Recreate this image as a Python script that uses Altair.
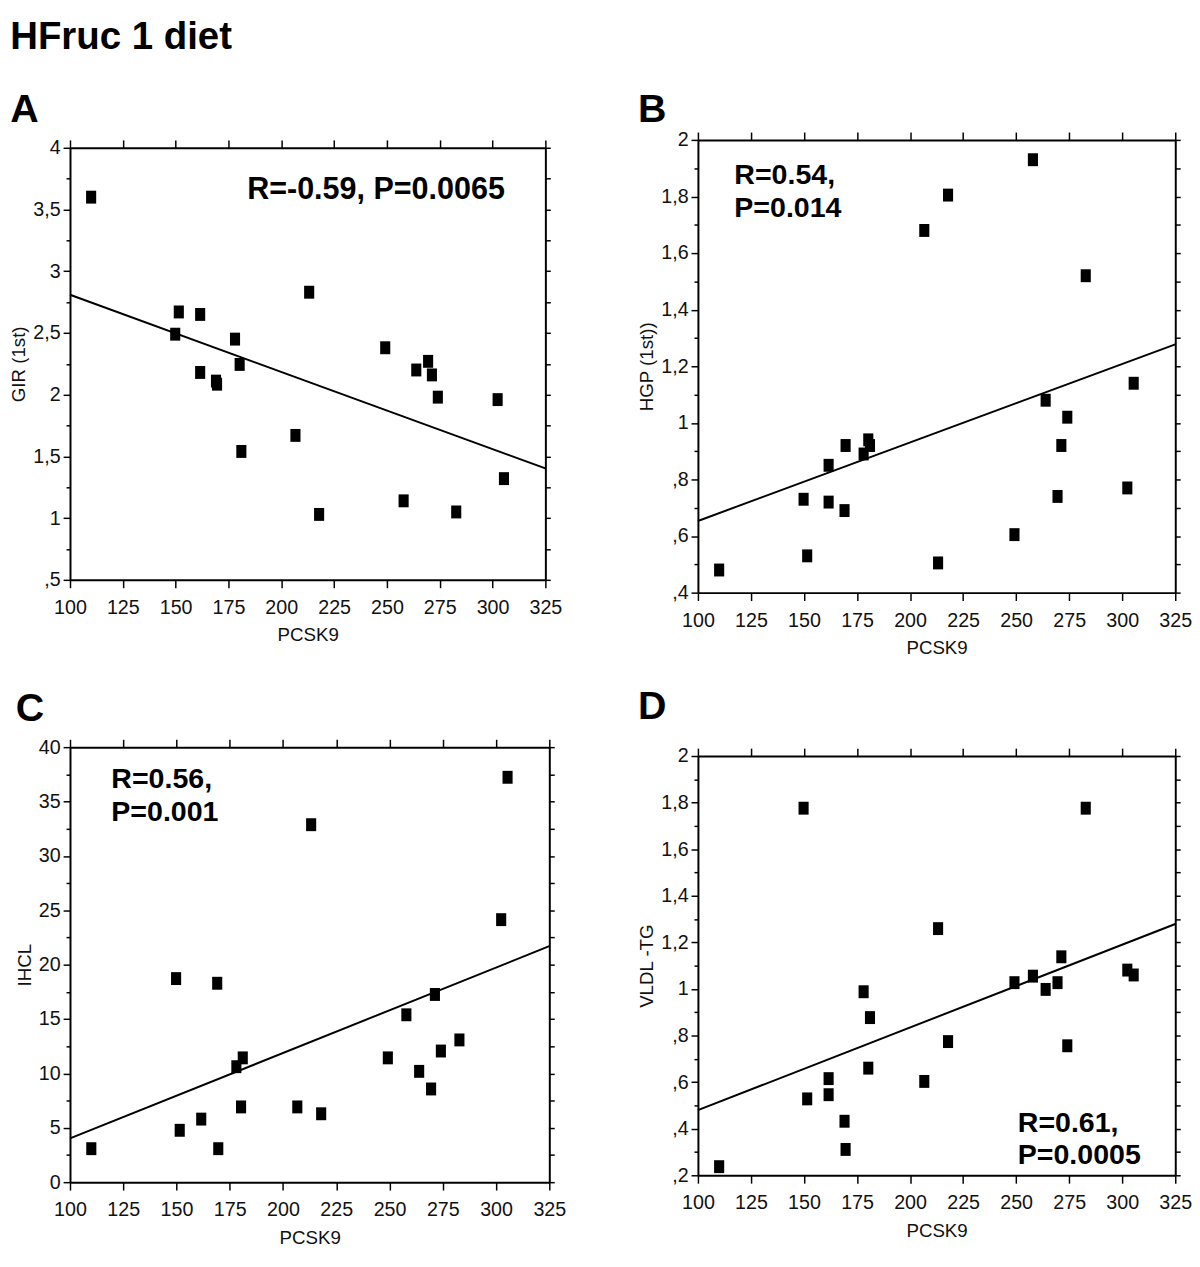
import json
import altair as alt
import pandas as pd

# ---- data ----
pcsk9 = [110.0, 149.8, 151.5, 161.6, 161.6, 169.1, 169.6, 178.1, 180.3, 181.1, 206.7,
         213.2, 217.9, 249.2, 257.9, 263.9, 269.5, 271.3, 274.1, 282.8, 302.4, 305.4]
gir_1st = [3.60, 2.49, 2.67, 2.65, 2.18, 2.11, 2.085, 2.45, 2.245, 1.54, 1.67,
           2.83, 1.03, 2.38, 1.14, 2.20, 2.27, 2.16, 1.98, 1.05, 1.96, 1.32]
hgp_1st = [0.48, 0.73, 0.53, 0.85, 0.72, 0.69, 0.92, 0.89, 0.94, 0.92, 1.68,
           0.505, 1.805, 0.605, 1.93, 1.08, 0.74, 0.92, 1.02, 1.52, 0.77, 1.14]
ihcl = [3.08, 18.72, 4.77, 5.8, None, 18.29, 3.08, 10.62, 6.92, 11.43, 6.92,
        32.87, 6.29, 11.43, 15.39, 10.19, 8.57, 17.26, 12.06, 13.08, 24.14, 37.23]
vldl_tg = [0.237, 1.776, 0.528, 0.615, 0.546, 0.432, 0.311, 0.988, 0.66, 0.877, 0.603,
           1.259, 0.774, 1.027, 1.055, 0.998, 1.027, 1.138, 0.756, 1.776, 1.081, 1.06]

x_ticks = [100, 125, 150, 175, 200, 225, 250, 275, 300, 325]
gir_major = [0.5, 1, 1.5, 2, 2.5, 3, 3.5, 4]
gir_minor = [0.75, 1.25, 1.75, 2.25, 2.75, 3.25, 3.75]
hgp_major = [0.4, 0.6, 0.8, 1, 1.2, 1.4, 1.6, 1.8, 2]
hgp_minor = [0.5, 0.7, 0.9, 1.1, 1.3, 1.5, 1.7, 1.9]
ihcl_major = [0, 5, 10, 15, 20, 25, 30, 35, 40]
ihcl_minor = [2.5, 7.5, 12.5, 17.5, 22.5, 27.5, 32.5, 37.5]
vldl_major = [0.2, 0.4, 0.6, 0.8, 1, 1.2, 1.4, 1.6, 1.8, 2]
vldl_minor = [0.3, 0.5, 0.7, 0.9, 1.1, 1.3, 1.5, 1.7, 1.9]

SANS = "Liberation Sans, Arial, sans-serif"

DEC_FMT = ("datum.value < 1 ? ',' + substring(format(datum.value, '.1~f'), 2) : "
           "replace(format(datum.value, '.1~f'), '.', ',')")
INT_FMT = "format(datum.value, 'd')"

RECT = "M-0.9,-1.15H0.9V1.15H-0.9Z"


def panel(letter, yvals, ytitle, ymajor, yminor, fmt, w, h,
          note, note_size, note_x, note_y, title_offset, top_gap=0):
    df = pd.DataFrame({"x": pcsk9, "y": yvals})
    xs = alt.Scale(domain=[100, 325], nice=False, zero=False)
    if top_gap:
        ys = alt.Scale(domain=[ymajor[0], ymajor[-1]], nice=False, zero=False,
                       range=[h, top_gap])
        top_axis = alt.Axis(orient="top", values=x_ticks, labels=False, title=None,
                            tickSize=8, offset=-top_gap)
    else:
        ys = alt.Scale(domain=[ymajor[0], ymajor[-1]], nice=False, zero=False)
        top_axis = alt.Axis(orient="top", values=x_ticks, labels=False, title=None,
                            tickSize=8)
    allv = sorted(ymajor + yminor)
    test = "indexof(%s, datum.value) >= 0" % json.dumps(ymajor)

    pts = alt.Chart(df).transform_filter("isValid(datum.y)").mark_point(
        shape=RECT, filled=True, size=130, color="black", opacity=1
    ).encode(
        x=alt.X("x:Q", scale=xs,
                axis=alt.Axis(orient="bottom", values=x_ticks, title="PCSK9",
                              tickSize=8, format="d", labelOverlap=False,
                              labelFlush=False, labelPadding=10, titlePadding=9)),
        y=alt.Y("y:Q", scale=ys,
                axis=alt.Axis(orient="left", values=allv, title=ytitle,
                              labelOverlap=False, labelFlush=False,
                              labelExpr=f"({test}) ? ({fmt}) : ''",
                              tickSize={"condition": {"test": test, "value": 7}, "value": 4})),
    )
    line = alt.Chart(df).transform_filter("isValid(datum.y)").transform_regression(
        "x", "y", extent=[100, 325]
    ).mark_line(color="black", strokeWidth=2).encode(
        x=alt.X("x:Q", scale=xs, axis=top_axis),
        y=alt.Y("y:Q", scale=ys,
                axis=alt.Axis(orient="right", values=allv, labels=False, title=None, tickSize=5)),
    )
    txt = alt.Chart(pd.DataFrame({"k": [0]})).mark_text(
        text=note, align="left", baseline="alphabetic", fontSize=note_size,
        fontWeight="bold", font=SANS, lineHeight=33, color="black"
    ).encode(x=alt.value(note_x), y=alt.value(note_y))

    return alt.layer(pts, line, txt).resolve_axis(
        x="independent", y="independent"
    ).properties(
        width=w, height=h,
        title=alt.TitleParams(letter, anchor="start", frame="bounds", fontSize=40,
                              font=SANS, fontWeight="bold", offset=title_offset,
                              color="black"),
    )


pA = panel("A", gir_1st, "GIR (1st)", gir_major, gir_minor, DEC_FMT, 483, 447,
           ["R=-0.59, P=0.0065"], 31, 180, 60, 8, top_gap=8)
pB = panel("B", hgp_1st, "HGP (1st))", hgp_major, hgp_minor, DEC_FMT, 485, 460,
           ["R=0.54,", "P=0.014"], 29, 37, 45, 0)
pC = panel("C", ihcl, "IHCL", ihcl_major, ihcl_minor, INT_FMT, 487, 442,
           ["R=0.56,", "P=0.001"], 29, 42, 42, 9)
pD = panel("D", vldl_tg, "VLDL -TG", vldl_major, vldl_minor, DEC_FMT, 485, 426,
           ["R=0.61,", "P=0.0005"], 29, 325, 382, 20)

col1 = alt.vconcat(pA, pC, spacing=45)
col2 = alt.vconcat(pB, pD, spacing=30)

chart = alt.hconcat(col1, col2, spacing=73).properties(
    title=alt.TitleParams("HFruc 1 diet", anchor="start", fontSize=39, font=SANS,
                          fontWeight="bold", color="black", offset=34),
    padding={"left": 2, "top": 1, "right": 0, "bottom": 0},
).configure_view(stroke=None).configure_axis(
    domainColor="black", domainWidth=2, tickColor="black", tickWidth=1.5,
    labelFont=SANS, labelFontSize=20, labelColor="#111111", labelPadding=3,
    titleFont=SANS, titleFontSize=19, titleFontWeight="normal", titleColor="#111111",
    grid=False,
)

chart.save("out.html", embed_options={"renderer": "svg", "actions": False})
